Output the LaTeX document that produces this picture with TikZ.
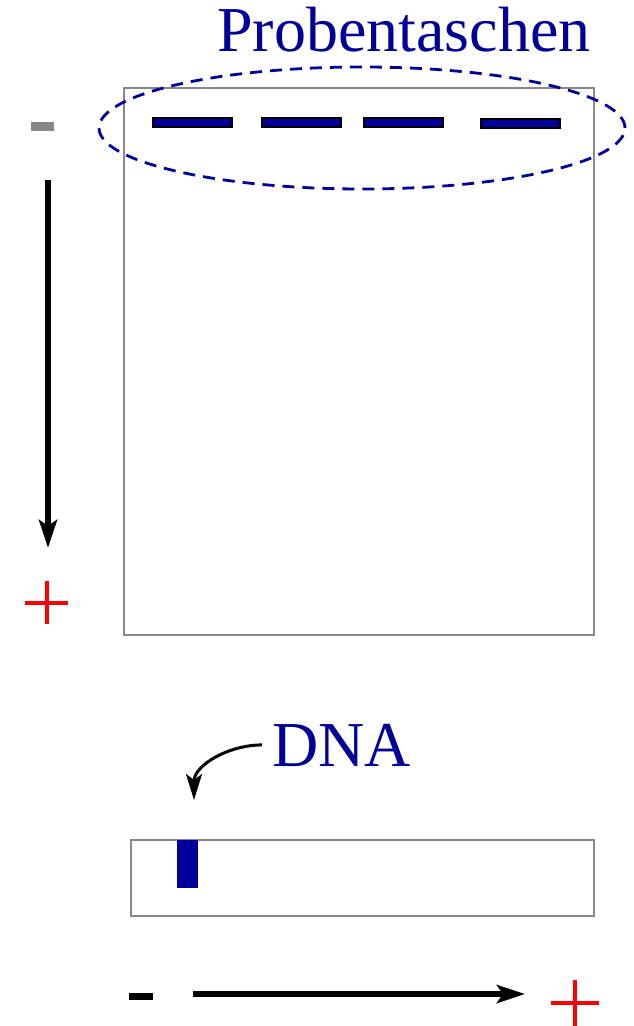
\documentclass[tikz,border=0pt]{standalone}
\usepackage{fontspec}
\setmainfont{Liberation Serif}
\usepackage{tikz}
\usetikzlibrary{arrows.meta,positioning,shapes.geometric}
\definecolor{gelblue}{RGB}{0,0,153}
\definecolor{gelgray}{RGB}{136,136,136}

\begin{document}
\begin{tikzpicture}[
            x=0.5pt, y=-0.5pt,
            font=\fontsize{32}{36}\selectfont,
            gel/.style={draw=gelgray, line width=1.1pt},
            well/.style={draw=black, fill=gelblue, line width=1.2pt},
            minus/.style={draw=none, fill=#1},
            plus/.style={draw=red, line width=2pt},
            lbl/.style={text=gelblue, inner sep=0pt},
            ar/.style={-{Stealth[length=14pt, width=9pt, inset=3pt]}, line width=2.8pt}
        ]
\useasboundingbox (0,0) rectangle (633,1026);

% Gel from the top
            \draw[gel] (124,88) rectangle (594,635);
            \node[draw=gelblue, dash pattern=on 6pt off 4pt, line width=1.4pt,
                ellipse, minimum width=263pt, minimum height=61pt, inner sep=0pt] (pockets) at (362,128) {};
            \node[lbl, anchor=base] (pocketlbl) at (404,52) {Probentaschen};
            \draw[well] (153,118) rectangle (232,127);
            \draw[well] (262,118) rectangle (341,127);
            \draw[well] (364,118) rectangle (443,127);
            \draw[well] (481,119) rectangle (560,128);

% Field direction, top to bottom
            \fill[minus=gelgray] (31,122) rectangle (54,131);
            \coordinate (vtop) at (48,180);
            \coordinate (vbot) at (48,548);
            \draw[ar] (vtop) -- (vbot);
            \coordinate (plusA) at (46.5,603);
            \draw[plus] ([xshift=-10.75pt]plusA) -- ([xshift=10.75pt]plusA)
                        ([yshift=11pt]plusA) -- ([yshift=-10.5pt]plusA);

% Gel from the side
            \draw[gel] (131,840) rectangle (594,916);
            \fill[gelblue] (177,840) rectangle (198,888);
            \node[lbl, anchor=base west] (dna) at (272,766) {DNA};
            \coordinate (dnatip) at (194,800);
            \draw[-{Stealth[length=13pt, width=8pt, inset=3pt]}, line width=1.5pt]
                ([xshift=-5pt]dna.west) to[out=180, in=90] (dnatip);

% Field direction, left to right
            \fill[minus=black] (129,993) rectangle (153,1000);
            \coordinate (hleft) at (193,994);
            \coordinate (hright) at (525,994);
            \draw[ar] (hleft) -- (hright);
            \coordinate (plusB) at (575,1003);
            \draw[plus] ([xshift=-12pt]plusB) -- ([xshift=12pt]plusB)
                        ([yshift=11.5pt]plusB) -- ([yshift=-11.5pt]plusB);
\end{tikzpicture}
\end{document}
